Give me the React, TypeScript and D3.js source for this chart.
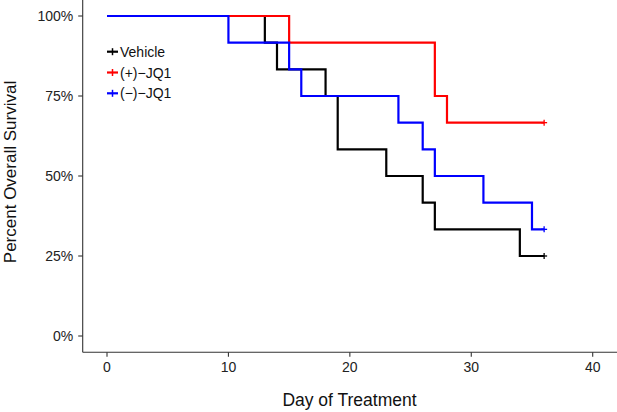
import React from "react";
import * as d3 from "d3";

const seriesNames = ["Vehicle", "(+)\u2212JQ1", "(\u2212)\u2212JQ1"];
const seriesColors = ["#000000", "#ff0000", "#0000ff"];

// Kaplan-Meier steps: [day, survival]
const vehicle: [number, number][] = [
  [0, 1], [13, 11 / 12], [14, 10 / 12], [18, 9 / 12], [19, 7 / 12],
  [23, 6 / 12], [26, 5 / 12], [27, 4 / 12], [34, 3 / 12], [36, 3 / 12],
];
const plusJQ1: [number, number][] = [
  [0, 1], [15, 11 / 12], [27, 9 / 12], [28, 8 / 12], [36, 8 / 12],
];
const minusJQ1: [number, number][] = [
  [0, 1], [10, 11 / 12], [15, 10 / 12], [16, 9 / 12], [24, 8 / 12],
  [26, 7 / 12], [27, 6 / 12], [31, 5 / 12], [35, 4 / 12], [36, 4 / 12],
];
const seriesData = [vehicle, plusJQ1, minusJQ1];

const xTicks = [0, 10, 20, 30, 40];
const yTicks = [0, 0.25, 0.5, 0.75, 1];

const W = 617;
const H = 412;
const axisX = 82.7;
const axisY = 352.3;

export default function App() {
  const x = d3.scaleLinear().domain([0, 40]).range([107, 592.7]);
  const y = d3.scaleLinear().domain([0, 1]).range([336, 16]);
  const line = d3
    .line<[number, number]>()
    .x((d) => x(d[0]))
    .y((d) => y(d[1]))
    .curve(d3.curveStepAfter);
  const font = "'Liberation Sans', Arial, Helvetica, sans-serif";

  return (
    <svg
      width={W}
      height={H}
      style={{ position: "absolute", left: 0, top: 0, background: "#fff" }}
      fontFamily={font}
    >
      {/* axes */}
      <line x1={axisX} x2={axisX} y1={0} y2={axisY} stroke="#333" strokeWidth={1.1} />
      <line x1={axisX} x2={W} y1={axisY} y2={axisY} stroke="#333" strokeWidth={1.1} />
      {yTicks.map((t) => (
        <g key={"y" + t}>
          <line x1={axisX - 4.5} x2={axisX} y1={y(t)} y2={y(t)} stroke="#333" strokeWidth={1.1} />
          <text
            x={axisX - 9.5}
            y={y(t)}
            dy="0.36em"
            textAnchor="end"
            fontSize={14}
            fill="#222"
          >
            {d3.format(".0%")(t)}
          </text>
        </g>
      ))}
      {xTicks.map((t) => (
        <g key={"x" + t}>
          <line x1={x(t)} x2={x(t)} y1={axisY} y2={axisY + 4.5} stroke="#333" strokeWidth={1.1} />
          <text x={x(t)} y={372} textAnchor="middle" fontSize={14} fill="#222">
            {t}
          </text>
        </g>
      ))}
      <text x={349.5} y={406} textAnchor="middle" fontSize={17.5} fill="#111">
        Day of Treatment
      </text>
      <text
        transform={`translate(16,172) rotate(-90)`}
        textAnchor="middle"
        fontSize={17}
        fill="#111"
      >
        Percent Overall Survival
      </text>

      {/* curves */}
      {seriesData.map((data, i) => {
        const last = data[data.length - 1];
        const cx = x(last[0]);
        const cy = y(last[1]);
        return (
          <g key={"s" + i}>
            <path d={line(data) || ""} fill="none" stroke={seriesColors[i]} strokeWidth={2.2} />
            <line x1={cx - 3} x2={cx + 3} y1={cy} y2={cy} stroke={seriesColors[i]} strokeWidth={1.3} />
            <line x1={cx} x2={cx} y1={cy - 3} y2={cy + 3} stroke={seriesColors[i]} strokeWidth={1.3} />
          </g>
        );
      })}

      {/* legend */}
      {seriesNames.map((name, i) => {
        const cy = 51.7 + i * 20.8;
        return (
          <g key={"l" + i}>
            <line x1={107} x2={118} y1={cy} y2={cy} stroke={seriesColors[i]} strokeWidth={2.2} />
            <line x1={112.5} x2={112.5} y1={cy - 3.5} y2={cy + 3.5} stroke={seriesColors[i]} strokeWidth={1.5} />
            <text x={120} y={cy} dy="0.36em" fontSize={14} fill="#111">
              {name}
            </text>
          </g>
        );
      })}
    </svg>
  );
}
